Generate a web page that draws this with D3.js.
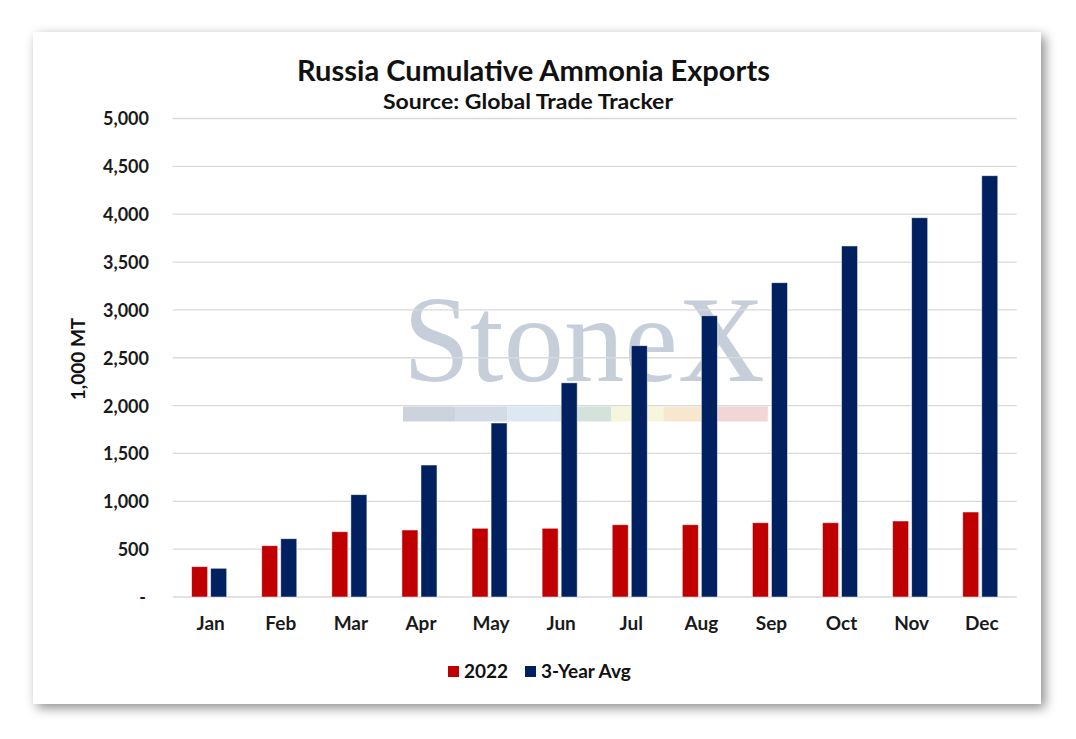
<!DOCTYPE html>
<html>
<head>
<meta charset="utf-8">
<script src="https://cdn.jsdelivr.net/npm/d3@7"></script>
<style>
  body { margin: 0; background: #ffffff; }
  svg { display: block; }
  text { font-family: Lato, "Open Sans", sans-serif; fill: #111; }
</style>
</head>
<body>
<script>
var months = ['Jan', 'Feb', 'Mar', 'Apr', 'May', 'Jun', 'Jul', 'Aug', 'Sep', 'Oct', 'Nov', 'Dec'];
var series = ['2022', '3-Year Avg'];
var values2022 = [317, 536, 682, 700, 718, 718, 755, 755, 776, 776, 794, 888];
var valuesAvg = [300, 609, 1069, 1379, 1818, 2238, 2626, 2939, 3284, 3668, 3963, 4402];
var yTicks = [0, 500, 1000, 1500, 2000, 2500, 3000, 3500, 4000, 4500, 5000];
var colors = ['#c00000', '#002060'];
var stripeColors = ['#cdd3dc', '#d2dbe6', '#dce9f3', '#d3e3dc', '#f6f6dc', '#f8e7cf', '#f2d6d6'];

var width = 1076, height = 739;

var svg = d3.select('body').append('svg')
  .attr('width', width)
  .attr('height', height);

// card with drop shadow
var defs = svg.append('defs');
var shadow = defs.append('filter').attr('id', 'shadow')
  .attr('x', '-5%').attr('y', '-5%').attr('width', '112%').attr('height', '115%');
shadow.append('feDropShadow')
  .attr('dx', 4).attr('dy', 4)
  .attr('stdDeviation', 6)
  .attr('flood-color', '#000')
  .attr('flood-opacity', 0.45);

svg.append('rect')
  .attr('x', 33).attr('y', 32)
  .attr('width', 1008).attr('height', 672)
  .attr('fill', '#fff')
  .attr('filter', 'url(#shadow)');

var x0 = d3.scaleBand()
  .domain(months)
  .range([172.7, 1016.7])
  .paddingInner(0.5)
  .paddingOuter(0.27);

var x1 = d3.scaleBand()
  .domain(series)
  .range([0, x0.bandwidth()])
  .paddingInner(0.16);

var y = d3.scaleLinear()
  .domain([0, 5000])
  .range([597, 118.5]);

// watermark
var wm = svg.append('g').attr('class', 'watermark');
wm.append('text')
  .attr('x', 403).attr('y', 381)
  .attr('textLength', 362)
  .attr('lengthAdjust', 'spacingAndGlyphs')
  .style('font-family', '"Liberation Serif", "DejaVu Serif", serif')
  .style('font-size', '122px')
  .style('fill', '#c6cfd9')
  .text('StoneX');
wm.selectAll('rect')
  .data(stripeColors)
  .enter().append('rect')
  .attr('x', function(d, i) { return 403 + i * 52.1; })
  .attr('y', 406.5)
  .attr('width', 52.2)
  .attr('height', 15)
  .attr('fill', function(d) { return d; });

// gridlines
svg.append('g').selectAll('line')
  .data(yTicks)
  .enter().append('line')
  .attr('x1', 172.7).attr('x2', 1016.7)
  .attr('y1', function(d) { return y(d); })
  .attr('y2', function(d) { return y(d); })
  .attr('stroke', '#d9d9d9')
  .attr('stroke-width', 1.3);

// y axis labels
var yAxis = d3.axisLeft(y)
  .tickValues(yTicks)
  .tickSize(0)
  .tickPadding(0)
  .tickFormat(function(d) { return d === 0 ? '-' : d3.format(',')(d); });

var yg = svg.append('g')
  .attr('transform', 'translate(149,0)')
  .call(yAxis);
yg.select('.domain').remove();
yg.selectAll('text')
  .attr('dy', '0.36em')
  .style('font-family', 'Lato, "Open Sans", sans-serif')
  .style('font-size', '18px')
  .style('font-weight', 'bold')
  .style('fill', '#1a1a1a');
yg.selectAll('.tick').filter(function(d) { return d === 0; }).select('text')
  .attr('x', -3);

// bars
var rows = months.map(function(m, i) {
  return { month: m, vals: [values2022[i], valuesAvg[i]] };
});

var groups = svg.append('g').selectAll('g')
  .data(rows)
  .enter().append('g')
  .attr('transform', function(d) { return 'translate(' + x0(d.month) + ',0)'; });

groups.selectAll('rect')
  .data(function(d) { return d.vals.map(function(v, k) { return { key: series[k], value: v, k: k }; }); })
  .enter().append('rect')
  .attr('x', function(d) { return x1(d.key); })
  .attr('y', function(d) { return y(d.value); })
  .attr('width', x1.bandwidth())
  .attr('height', function(d) { return y(0) - y(d.value); })
  .attr('fill', function(d) { return colors[d.k]; })
  .attr('stroke', '#ffffff')
  .attr('stroke-opacity', 0.6)
  .attr('stroke-width', 0.8);

// x axis labels
var xAxis = d3.axisBottom(x0).tickSize(0).tickPadding(0);
var xg = svg.append('g')
  .attr('transform', 'translate(0,' + 630 + ')')
  .call(xAxis);
xg.select('.domain').remove();
xg.selectAll('text')
  .attr('dy', 0)
  .attr('x', 1.5)
  .style('font-family', 'Lato, "Open Sans", sans-serif')
  .style('font-size', '19px')
  .style('font-weight', 'bold')
  .style('fill', '#1a1a1a');

// titles
svg.append('text')
  .attr('x', 533.5).attr('y', 81)
  .attr('text-anchor', 'middle')
  .attr('textLength', 473)
  .attr('lengthAdjust', 'spacingAndGlyphs')
  .style('font-size', '28px')
  .style('font-weight', 'bold')
  .text('Russia Cumulative Ammonia Exports');

svg.append('text')
  .attr('x', 528).attr('y', 109)
  .attr('text-anchor', 'middle')
  .attr('textLength', 290)
  .attr('lengthAdjust', 'spacingAndGlyphs')
  .style('font-size', '21px')
  .style('font-weight', 'bold')
  .text('Source: Global Trade Tracker');

svg.append('text')
  .attr('transform', 'translate(85,359) rotate(-90)')
  .attr('text-anchor', 'middle')
  .style('font-size', '19px')
  .style('font-weight', 'bold')
  .text('1,000 MT');

// legend
var legend = svg.append('g').selectAll('g')
  .data(series)
  .enter().append('g')
  .attr('transform', function(d, i) { return 'translate(' + [448, 525][i] + ',666)'; });

legend.append('rect')
  .attr('width', 11).attr('height', 11)
  .attr('fill', function(d, i) { return colors[i]; });

legend.append('text')
  .attr('x', 16).attr('y', 11.5)
  .style('font-size', '19px')
  .style('font-weight', 'bold')
  .text(function(d) { return d; });
</script>
</body>
</html>
